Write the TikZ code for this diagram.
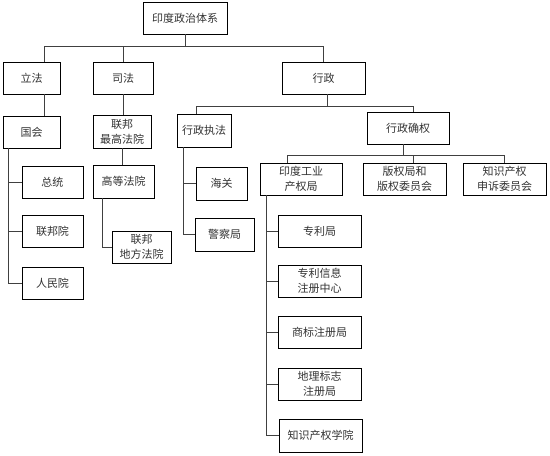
\documentclass[tikz,border=0pt]{standalone}
\usepackage{fontspec}
\newfontfamily\cjk{Noto Sans CJK SC}
\usepackage{tikz}
\usetikzlibrary{positioning}

\begin{document}
\begin{tikzpicture}[
  x=1pt, y=-1pt,
  nd/.style={draw, line width=0.8pt, minimum height=32pt, minimum width=83pt,
             inner sep=0pt, font=\cjk\fontsize{11}{15}\selectfont,
             align=center, text=black!80, fill=white},
  ln/.style={line width=0.8pt, draw=black!75}
]
  \useasboundingbox (0,0) rectangle (550,456);

  \node[nd, minimum width=84pt] (top) at (185,18) {印度政治体系};

  \node[nd, minimum width=57pt] (lifa) at (31.5,78)   {立法};
  \node[nd, minimum width=60pt] (sifa) at (123,78)    {司法};
  \node[nd] (xingzheng) at (323.5,78) {行政};

  % legislative
  \node[nd, minimum width=57pt] (guohui)   at (31.5,132) {国会};
  \node[nd, minimum width=61pt] (zongtong) at (52.5,182) {总统};
  \node[nd, minimum width=61pt] (lianbang) at (52.5,231) {联邦院};
  \node[nd, minimum width=61pt] (renmin)   at (52.5,283) {人民院};

  % judicial
  \node[nd, minimum width=58pt, minimum height=33pt] (zuigao)  at (122,131.5)   {联邦\\最高法院};
  \node[nd, minimum width=61pt, minimum height=33pt] (gaodeng) at (123.5,181.5) {高等法院};
  \node[nd, minimum width=59pt] (difang) at (141.5,247) {联邦\\地方法院};

  % executive
  \node[nd, minimum width=54pt, minimum height=33pt] (zhifa)   at (204,130.5)   {行政执法};
  \node[nd, minimum width=51pt, minimum height=33pt] (haiguan) at (221.5,183.5) {海关};
  \node[nd, minimum width=59pt, minimum height=33pt] (jingcha) at (224.5,234.5) {警察局};
  \node[nd, minimum width=82pt] (queren)  at (408,128)   {行政确权};
  \node[nd, minimum width=82pt] (gongye)  at (301,179)   {印度工业\\产权局};
  \node[nd] (banquan) at (404.5,179) {版权局和\\版权委员会};
  \node[nd] (shensu)  at (504.5,179) {知识产权\\申诉委员会};

  \node[nd] (zhuanli)   at (319.5,231) {专利局};
  \node[nd] (xinxi)     at (319.5,281) {专利信息\\注册中心};
  \node[nd] (shangbiao) at (319.5,332) {商标注册局};
  \node[nd] (dili)      at (319.5,384) {地理标志\\注册局};
  \node[nd, minimum height=33pt] (xueyuan) at (320.5,435.5) {知识产权学院};

  % connectors
  \draw[ln] (top.south) -- ++(0,12) coordinate (b1);
  \draw[ln] (b1) -| ([xshift=12.5pt]lifa.north);
  \draw[ln] (b1) -| (sifa.north);
  \draw[ln] (b1) -| (xingzheng.north);

  \draw[ln] ([xshift=12.5pt]lifa.south) -- ([xshift=12.5pt]guohui.north);
  \draw[ln] ([xshift=-23.5pt]guohui.south) |- (zongtong.west);
  \draw[ln] ([xshift=-23.5pt]guohui.south) |- (lianbang.west);
  \draw[ln] ([xshift=-23.5pt]guohui.south) |- (renmin.west);

  \draw[ln] (sifa.south) -- (sifa.south |- zuigao.north);
  \draw[ln] (zuigao.south) -- (zuigao.south |- gaodeng.north);
  \draw[ln] ([xshift=-21.5pt]gaodeng.south) |- (difang.west);

  \draw[ln] ([xshift=3.5pt]xingzheng.south) -- ++(0,12) coordinate (b2);
  \draw[ln] (b2) -| ([xshift=-8pt]zhifa.north);
  \draw[ln] (b2) -| ([xshift=5pt]queren.north);
  \draw[ln] ([xshift=-21pt]zhifa.south) |- (haiguan.west);
  \draw[ln] ([xshift=-21pt]zhifa.south) |- (jingcha.west);

  \draw[ln] ([xshift=-5pt]queren.south) -- ++(0,11) coordinate (b3);
  \draw[ln] (b3) -| ([xshift=-14pt]gongye.north);
  \draw[ln] (b3) -| ([xshift=8.5pt]banquan.north);
  \draw[ln] (b3) -| (shensu.north);

  \draw[ln] ([xshift=-35pt]gongye.south) |- (zhuanli.west);
  \draw[ln] ([xshift=-35pt]gongye.south) |- (xinxi.west);
  \draw[ln] ([xshift=-35pt]gongye.south) |- (shangbiao.west);
  \draw[ln] ([xshift=-35pt]gongye.south) |- (dili.west);
  \draw[ln] ([xshift=-35pt]gongye.south) |- (xueyuan.west);
\end{tikzpicture}
\end{document}
